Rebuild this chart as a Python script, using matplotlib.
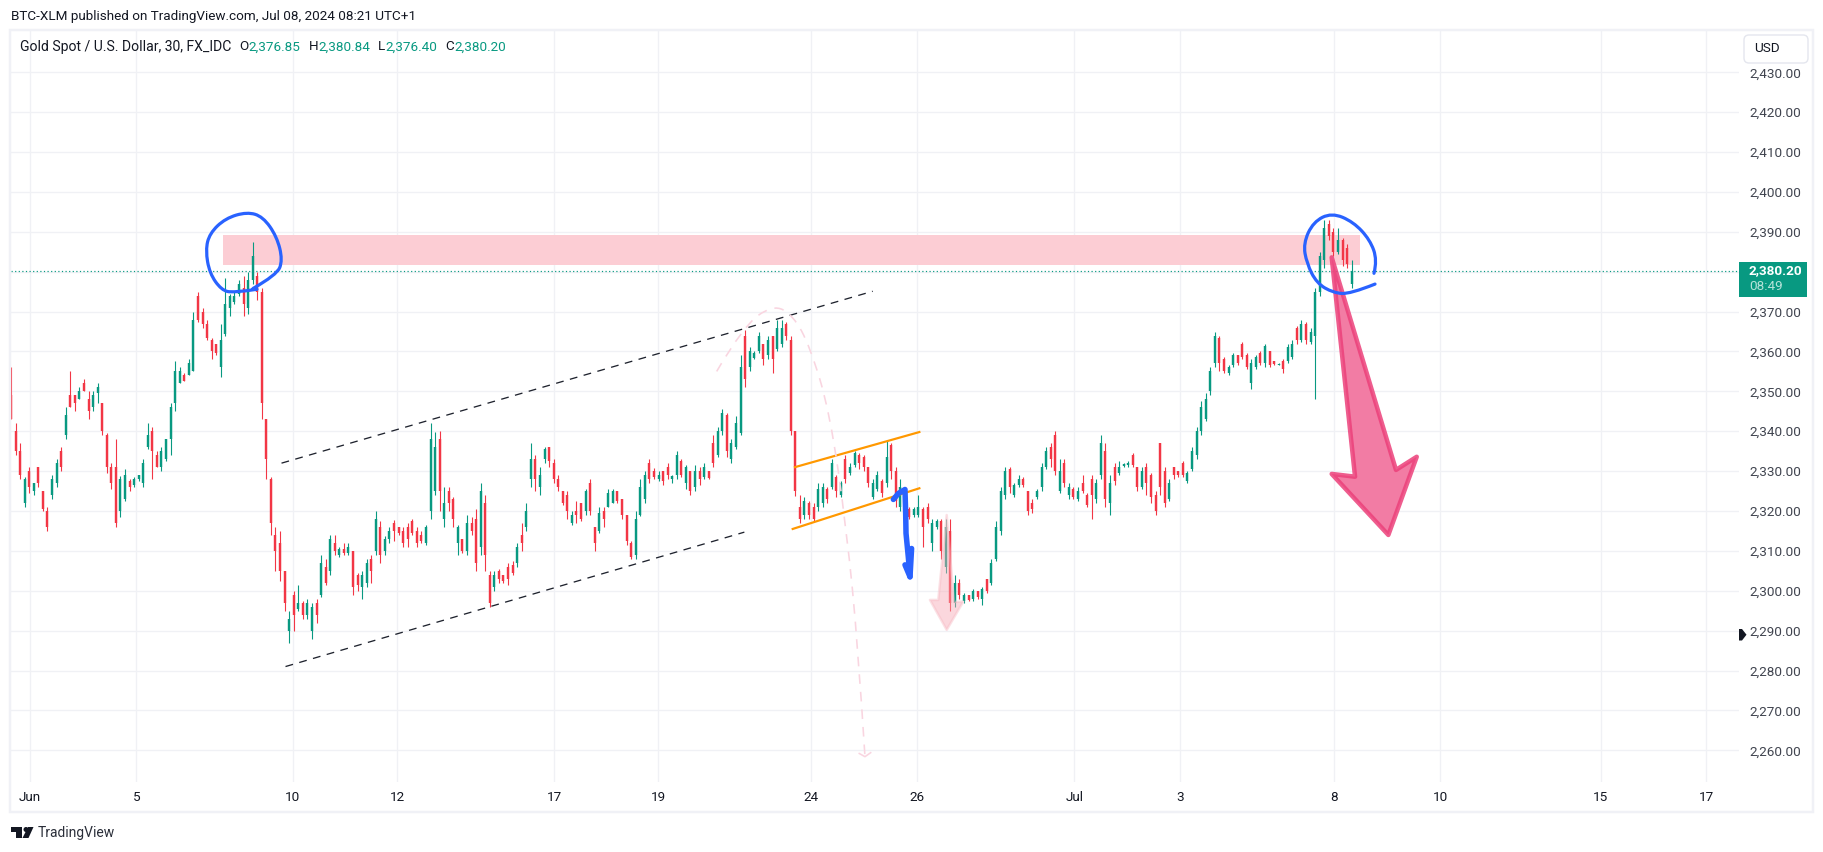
import numpy as np
import matplotlib.pyplot as plt
from matplotlib.path import Path
from matplotlib.patches import PathPatch, Polygon, FancyBboxPatch, Rectangle, Circle

plt.rcParams['font.family'] = ['Roboto', 'DejaVu Sans']

# candles, one for every 4 thirty minute bars
highs = [2356,2342,2337,2328.5,2331,2327,2331,2325,2321,2329,
         2333,2336,2346,2355,2349,2351,2353,2350,2350,2352,
         2347,2339.5,2332,2338,2328.7,2330.5,2328,2328.5,2329,2333,
         2342,2341,2335,2336,2338,2347,2357.5,2356,2354.5,2358,
         2370,2375,2371,2368,2363.5,2362,2367,2378.5,2374.5,2375,
         2378,2379,2380,2387.5,2380,2376,2343,2328.5,2316,2315,
         2305,2295,2300,2301.5,2297.5,2298,2297,2298,2309,2308,
         2314,2314,2311,2312,2312,2310,2304.5,2305,2308,2309,
         2320,2317.5,2313.7,2316,2317.7,2316,2316,2317,2318,2316,
         2315,2316.5,2342,2339.7,2340,2326,2326,2323.5,2316.5,2313,
         2319,2318.5,2320.5,2327,2324,2305,2305,2305.5,2304,2307,
         2307.5,2312,2317,2322,2337,2334,2331,2336,2336,2333,
         2329,2325,2325,2320,2322.5,2322,2325.5,2328,2316,2321,
         2321,2325.5,2325.5,2325,2323,2319,2312.5,2320,2328,2330,
         2333,2330.7,2330,2330,2332,2329,2335,2333,2331.5,2330,
         2331.5,2331,2332,2330,2339,2341,2345.7,2344.5,2338,2343.7,
         2359,2365.5,2361,2360,2365,2362,2364,2364,2368,2368,
         2367.5,2364,2340,2324,2323.5,2322.5,2322,2327,2327,2326,
         2333,2329,2327.5,2334,2332,2335,2334.5,2334,2331,2328,
         2330,2328,2337.5,2337,2331,2328,2324,2321,2321,2324,
         2321,2322,2318,2318,2318,2318,2318,2304,2303,2299.5,
         2299,2300.5,2300,2301,2303,2308,2317.5,2326,2331,2331,
         2327,2329,2328.5,2325,2323,2325.5,2332,2336,2337,2340,
         2333,2333,2327,2326,2326,2329,2324.5,2329,2328,2339,
         2337,2329,2332,2332.5,2332,2332.5,2334.5,2331,2331,2332,
         2329.5,2325,2337,2331,2328,2331,2330,2332.5,2330,2336,
         2341,2347.5,2349.5,2356,2365,2364,2358.5,2356.5,2359.5,2359,
         2362.5,2359.5,2358,2359,2360,2362,2360,2357.5,2357,2358,
         2362,2363,2366.5,2368,2367.5,2366,2376,2385,2393,2393,
         2391,2391,2388.5,2387,2383]
lows = [2343,2334,2328,2321,2324.5,2324,2326,2320,2315,2323,
        2326,2330,2338,2346,2345,2348,2350,2343,2345,2347,
        2339,2329.5,2325.5,2316,2318.5,2322.5,2325,2326,2327.5,2326,
        2335.5,2328,2331,2330,2332.5,2334,2345,2352,2352.5,2354,
        2355,2367.5,2366,2363,2358,2359,2353.5,2364,2369,2372,
        2374,2369,2369.5,2377,2373,2343,2328,2314,2305,2302.5,
        2295,2287,2290,2295,2293,2293,2288,2292,2298.5,2301.5,
        2304,2309,2308.5,2309,2309,2299,2300,2298,2301,2302,
        2309,2307,2309,2312,2312.5,2314,2311,2311,2314,2311,
        2312,2311.5,2318,2324,2320,2316,2320,2316,2309,2309.5,
        2309,2314,2305,2309,2305,2296,2300,2302,2302,2301.5,
        2304,2306,2310,2315,2326,2325,2324,2332,2331,2327,
        2325,2321.5,2318,2316.5,2317,2317.5,2319,2319,2310,2314.5,
        2316,2321,2322,2322,2318,2311.5,2308,2308,2318.7,2322,
        2327,2328,2327.5,2326.5,2328,2327,2328,2328.5,2325.5,2324,
        2325,2326.5,2328,2328,2331,2333.5,2339,2333.5,2332,2335.5,
        2339,2351,2355,2358,2359.5,2356.5,2358,2354.7,2360,2361,
        2363,2339,2323.7,2317,2318,2318,2317.5,2320,2321,2322,
        2325.5,2323.5,2323.5,2327,2329,2331,2330.5,2330,2326,2323,
        2325,2323.5,2326,2328,2321,2320,2316,2318,2318.5,2318.5,
        2311,2317,2310,2315.5,2308,2304.5,2295,2296,2298,2297,
        2297.5,2297.5,2298,2296.5,2299.5,2301.5,2307.5,2314,2323,2324.5,
        2323.5,2326,2326,2319,2319.5,2323,2325,2330.5,2331,2329,
        2324.5,2326,2323,2323,2322.5,2324.5,2321,2318,2322,2328,
        2321,2319,2326.5,2329,2331,2331,2331,2325,2325.5,2324,
        2322,2319,2324,2321,2322.5,2328,2328.5,2328.5,2327,2330,
        2333,2339,2342.5,2349,2356,2355,2354.5,2354,2356,2356.5,
        2358,2355.5,2350.5,2355.5,2356.5,2356,2356,2356.5,2356.5,2354.5,
        2357,2358,2362,2362.5,2362,2362,2348,2374,2381,2388,
        2384,2384.5,2381.5,2381,2376]
opens = [2349,2340,2335,2322,2330,2325,2331,2325,2320,2324,
         2327,2335,2339,2349,2349,2348,2352,2348,2346,2349.5,
         2347,2339,2331,2331,2320,2323,2327.5,2326.5,2328,2327,
         2336,2340,2334,2331,2333,2338,2347,2352,2354,2354,
         2355,2374,2370,2367,2363,2362,2356,2364.5,2371,2372.5,
         2374.5,2376,2371,2378,2379,2375,2343,2328,2314,2312,
         2305,2290,2299,2295.5,2297,2294,2290,2297,2299,2306,
         2305,2312,2309,2310.5,2309.5,2310,2304,2301,2302,2308,
         2310,2316,2310,2313,2317,2316,2315,2316,2317.5,2315,
         2314,2312,2320,2325,2338,2318,2325,2323,2312,2313,
         2310,2317,2318,2311,2322,2304,2301,2305,2304,2306,
         2306.5,2307,2314,2316,2328,2333,2326,2333,2336,2332,
         2328,2325,2324,2317,2320,2322,2320,2327,2316,2315,
         2320,2321,2322,2325,2323,2319,2312,2309,2319,2323,
         2332,2330,2328,2330,2331,2328,2329,2332.5,2327,2330,
         2326,2330,2328.5,2330,2337,2334,2340,2344,2333,2336,
         2339.5,2364,2356,2358.3,2360,2362,2359,2364,2360.5,2362,
         2367,2363,2340,2321,2319,2322,2321,2321,2322,2325.5,
         2326,2328.5,2324,2333,2329.5,2331.5,2334,2333.5,2331,2323.5,
         2325.5,2327.5,2327,2336.5,2330,2321,2323,2320.5,2319,2319,
         2320.5,2321,2312,2316,2317.5,2306,2315,2297,2302,2297.5,
         2299,2298,2300,2298,2303,2302,2308,2315,2324,2330.5,
         2324,2326.5,2328,2325,2322,2323.5,2326,2331,2336,2339,
         2325,2332,2324,2325.5,2323,2327,2324,2328,2323,2329,
         2335,2322,2331,2329.5,2331.2,2331.5,2334,2331,2326,2331,
         2329,2324,2337,2330,2323,2331,2330,2332,2327.5,2330.5,
         2334,2340,2343,2350,2357,2363.5,2358,2354.5,2356.5,2359,
         2362,2359,2352,2356,2359.5,2357,2360,2357.5,2356.6,2357.5,
         2357.5,2358.5,2366,2363,2367,2362.5,2364,2375,2383,2392,
         2390,2385,2388,2386,2377]
closes = [2343,2335,2329,2328,2326,2327,2327,2320.5,2316,2328,
          2332,2331,2344,2346,2347,2350,2350,2345,2349,2351,
          2340,2331,2327,2317,2328,2329,2326,2328,2329,2332,
          2339,2335,2331,2335,2338,2346,2355,2355,2352.5,2357,
          2368,2368,2367,2363.5,2360,2359.5,2363,2372,2374,2374,
          2377,2372,2378,2384,2375,2347,2333,2317,2310,2305,
          2297,2293,2294,2297,2294,2297,2296,2294,2307,2302,
          2313,2310,2310.5,2309.5,2311,2301,2301.5,2304,2307,2305,
          2318,2309,2313,2315,2315,2314.5,2312,2313,2314.5,2312,
          2312.5,2316,2338,2336,2325,2322,2322,2318,2316,2310,
          2317,2315,2307,2325,2309,2297,2304,2303,2302.5,2303,
          2304.5,2311,2312,2320,2333,2328,2329,2335.5,2332.5,2328,
          2326,2322,2320,2319,2319,2318,2325,2320,2312,2319.5,
          2318,2324.5,2325,2322.5,2319,2312.5,2308.5,2318,2326,2329,
          2328,2328.5,2329,2327.5,2329,2328.7,2334,2329,2331,2325,
          2330,2328,2331,2328.3,2332,2340,2344.5,2335,2337,2342,
          2356,2353,2360,2359.5,2364,2358,2363,2358,2366,2366,
          2364,2340,2325,2318,2322.5,2319,2318,2325.5,2326,2323,
          2332,2325,2327,2328,2331,2334.5,2332,2331,2327,2327,
          2329,2324.5,2333.5,2330,2322.5,2326,2318,2318.5,2320.5,2321,
          2316,2318,2317,2317.5,2310,2316,2297,2302,2299,2299,
          2297.8,2300,2298.5,2300.5,2300,2307,2316,2325,2330,2326,
          2326.5,2328,2326.5,2320,2320.5,2325,2331,2335,2333,2330,
          2330,2327,2326,2323.5,2325,2325,2321.5,2324,2327,2337,
          2323,2327,2327.5,2331,2331.8,2332,2331.5,2326,2330,2327,
          2323.5,2320,2326,2322,2327,2329,2329,2329,2329.5,2335,
          2340,2346,2348,2355,2364,2357,2355,2356,2359,2357,
          2358.5,2356,2357,2358.5,2357,2361.5,2356.5,2356.8,2356.9,2355.5,
          2361,2362,2363,2367,2363,2365,2375,2384,2391,2389,
          2385,2388,2383,2382,2380.2]
bars = np.arange(len(closes)) * 4

price_ticks = np.arange(2260, 2431, 10)
date_ticks = [16.3, 110, 247, 338.9, 476.7, 567.8, 702, 795, 932.7, 1025.7, 1160.8, 1253.8, 1394.5, 1487]
date_labels = ['Jun', '5', '10', '12', '17', '19', '24', '26', 'Jul', '3', '8', '10', '15', '17']

last_price = 2380.20
zone_bars = [186, 1183]
zone_prices = [2381.8, 2389.3]

# drawings, in bars and prices
upper_bars = [237.3, 755.9]
upper_prices = [2332, 2375.1]
lower_bars = [240.8, 643.3]
lower_prices = [2281, 2314.7]
flag_top_bars = [687.7, 796.8]
flag_top_prices = [2331, 2339.8]
flag_low_bars = [685.7, 796.8]
flag_low_prices = [2315.5, 2325.7]
curve_bars = [619, 642, 668.4, 686, 700.9, 718.4, 733, 743, 749.1]
curve_prices = [2355, 2366.2, 2371.8, 2369.1, 2361.2, 2344.6, 2315.2, 2286, 2258.4]
curve_head_bars = [744.1, 749.1, 754.1]
curve_head_prices = [2259.2, 2258.4, 2259.4]
small_arrow_bars = [820.8, 827.2, 835.4, 820.8, 806.1, 813.4]
small_arrow_prices = [2319, 2297.2, 2297.3, 2290.2, 2297.7, 2297.7]
big_arrow_bars = [1158.5, 1214.9, 1233.1, 1208.2, 1158.5, 1179]
big_arrow_prices = [2383.6, 2330.3, 2333.6, 2314, 2329.3, 2328.6]
circle1_bars = [212.3, 233.2, 238.3, 233.2, 221, 207.1, 188.1, 174.2, 170.7, 174.2, 184.6, 195, 215.8]
circle1_prices = [2375.8, 2379.2, 2382.9, 2388.8, 2393.8, 2395, 2393.4, 2389.6, 2385.4, 2379.6, 2375.4, 2374.7, 2375.6]
circle2_bars = [1195.6, 1198.5, 1192.1, 1177.5, 1158.5, 1142.4, 1133.6, 1136.6, 1145.4, 1160, 1174.6, 1196.5]
circle2_prices = [2379.6, 2382.9, 2388, 2392.5, 2394.8, 2392.5, 2387.1, 2382.1, 2377.1, 2374.7, 2374.4, 2376.9]
blue_bars = [774, 778.4, 784.2, 784.8, 785.1, 787.1, 788.6]
blue_prices = [2322.9, 2324.4, 2325.4, 2319.4, 2314.4, 2308.5, 2303.5]
barb_bars = [790, 788.6, 784.2]
barb_prices = [2310.6, 2303.5, 2306.5]

UP = '#089981'
DOWN = '#f23645'
GRID = '#f0f1f5'
TEXT = '#131722'
AXTEXT = '#40444f'
BLUE = '#2962ff'
PX = 0.72


def smooth(xs, ys):
    # quadratic curve through the midpoints, for the hand drawn lines
    verts = [(xs[0], ys[0])]
    codes = [Path.MOVETO]
    for i in range(1, len(xs) - 1):
        verts.append((xs[i], ys[i]))
        codes.append(Path.CURVE3)
        if i < len(xs) - 2:
            verts.append(((xs[i] + xs[i + 1]) / 2, (ys[i] + ys[i + 1]) / 2))
        else:
            verts.append((xs[-1], ys[-1]))
        codes.append(Path.CURVE3)
    return Path(verts, codes)


fig = plt.figure(figsize=(18.24, 8.52), dpi=100)
ax = fig.add_axes([11 / 1824, 1 - 782 / 852, 1728 / 1824, 751 / 852])
ax.set_xlim(0, 1728 / 1.14)
ax.set_ylim(2252.05, 2440.36)
for s in ax.spines.values():
    s.set_visible(False)

ax.yaxis.tick_right()
ax.set_yticks(price_ticks)
ax.set_yticklabels(['{:,.2f}'.format(p) for p in price_ticks])
ax.set_xticks(date_ticks)
ax.set_xticklabels(date_labels)
ax.tick_params(axis='both', length=0, labelsize=9.7, labelcolor=AXTEXT)
ax.tick_params(axis='y', pad=7.2)
ax.tick_params(axis='x', pad=6.5, labelcolor=TEXT)
ax.grid(True, color=GRID, lw=1 * PX * 1.3, zorder=0)
ax.set_axisbelow(True)

ax.fill_between(zone_bars, zone_prices[0], zone_prices[1], color='#fccdd4', lw=0, zorder=1)

highs = np.array(highs)
lows = np.array(lows)
opens = np.array(opens)
closes = np.array(closes)
up = closes >= opens
for mask, col in ((up, UP), (~up, DOWN)):
    ax.vlines(bars[mask], lows[mask], highs[mask], color=col, lw=1.1 * PX, capstyle='butt', zorder=3)
    ax.vlines(bars[mask], opens[mask], closes[mask], color=col, lw=2.4 * PX, capstyle='butt', zorder=3)

ax.axhline(last_price, color=UP, lw=1 * PX * 1.2, ls=(0, (1, 2)), zorder=4)

ax.plot(upper_bars, upper_prices, color='#1e222d', lw=1.3 * PX, ls=(0, (6, 5)), zorder=5)
ax.plot(lower_bars, lower_prices, color='#1e222d', lw=1.3 * PX, ls=(0, (6, 5)), zorder=5)
ax.plot(flag_top_bars, flag_top_prices, color='#ff9800', lw=2.2 * PX, zorder=5)
ax.plot(flag_low_bars, flag_low_prices, color='#ff9800', lw=2.2 * PX, zorder=5)

ax.add_patch(PathPatch(smooth(curve_bars, curve_prices), fill=False, ec='#f9d5e0', lw=1.6 * PX,
                       ls=(0, (6, 5)), zorder=5))
ax.plot(curve_head_bars, curve_head_prices, color='#f9d5e0', lw=1.6 * PX, zorder=5)

ax.add_patch(Polygon(np.column_stack([small_arrow_bars, small_arrow_prices]), closed=True,
                     fc='#f7a8b4', ec='#f7bcc5', alpha=0.45, lw=2.5 * PX, joinstyle='round', zorder=6))
ax.add_patch(Polygon(np.column_stack([big_arrow_bars, big_arrow_prices]), closed=True,
                     fc='#f27ca4', ec='none', zorder=6))
ax.add_patch(Polygon(np.column_stack([big_arrow_bars, big_arrow_prices]), closed=True,
                     fill=False, ec='#ec407a', alpha=0.85, lw=4.5 * PX, joinstyle='round', zorder=6))

ax.add_patch(PathPatch(smooth(circle1_bars, circle1_prices), fill=False, ec=BLUE, lw=3.2 * PX,
                       capstyle='round', zorder=7))
ax.add_patch(PathPatch(smooth(circle2_bars, circle2_prices), fill=False, ec=BLUE, lw=3.2 * PX,
                       capstyle='round', zorder=7))
ax.plot(blue_bars, blue_prices, color=BLUE, lw=5.5 * PX, solid_capstyle='round', solid_joinstyle='round', zorder=7)
ax.plot(barb_bars, barb_prices, color=BLUE, lw=5.5 * PX, solid_capstyle='round', solid_joinstyle='round', zorder=7)

# everything round the chart, in picture pixels
top = fig.add_axes([0, 0, 1, 1])
top.set_xlim(0, 1824)
top.set_ylim(852, 0)
top.axis('off')
top.patch.set_visible(False)

top.add_patch(Rectangle((10, 30), 1803, 782, fill=False, ec='#f0f1f6', lw=2.5 * PX))

fs = 9.7
top.text(11, 16.5, 'BTC-XLM published on TradingView.com, Jul 08, 2024 08:21 UTC+1', color=TEXT,
         fontsize=fs, va='center')
top.text(20, 47, 'Gold Spot / U.S. Dollar, 30, FX_IDC', color=TEXT, fontsize=10.1, va='center')
for x, s in zip([239, 309, 378, 445.6], ['O', 'H', 'L', 'C']):
    top.text(x, 47, s, color=TEXT, fontsize=fs, va='center')
for x, s in zip([248, 318, 385.5, 454], ['2,376.85', '2,380.84', '2,376.40', '2,380.20']):
    top.text(x, 47, s, color=UP, fontsize=fs, va='center')

# the USD button sits on a white block that cuts the top price label
top.add_patch(Rectangle((1739.5, 32), 72, 36, fc='white', ec='none', zorder=4))
top.add_patch(FancyBboxPatch((1748, 39), 56, 20, boxstyle='round,pad=4,rounding_size=5',
                             fc='white', ec='#e4e6ee', lw=1.4 * PX, zorder=5))
top.text(1754, 49, 'USD', color=TEXT, fontsize=fs, va='center', zorder=6)

top.add_patch(Rectangle((1739, 262), 68, 35, fc=UP, ec='none', zorder=5))
top.text(1749, 270.5, '2,380.20', color='white', fontsize=fs, fontweight='bold', va='center', zorder=6)
top.text(1749, 286, '08:49', color='#b5e3d8', fontsize=fs, va='center', zorder=6)

top.add_patch(Polygon([(1739, 629), (1742, 629), (1746.5, 634.7), (1742, 640.5), (1739, 640.5)],
                      closed=True, fc='#131722', ec='none'))

# logo and name at the bottom
top.add_patch(Polygon([(11, 827), (22.5, 827), (22.5, 838), (16.5, 838), (16.5, 832), (11, 832)],
                      closed=True, fc='#131722', ec='none'))
top.add_patch(Circle((26, 829.5), 2.5, fc='#131722', ec='none'))
top.add_patch(Polygon([(28, 827), (33.5, 827), (28.5, 838), (22.5, 838)], closed=True, fc='#131722', ec='none'))
top.text(38, 832.5, 'TradingView', color='#2a2e39', fontsize=10, va='center')

fig.savefig('out.png', dpi=100)
